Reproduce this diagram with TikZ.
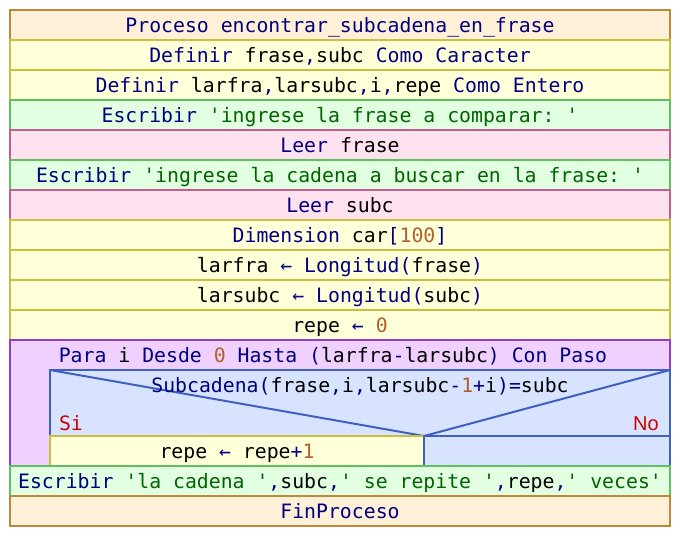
\documentclass[tikz,border=0pt]{standalone}
\usepackage{fontspec}
\setmonofont{DejaVu Sans Mono}
\newfontfamily\nofont{Liberation Sans}
\definecolor{kwc}{HTML}{000080}
\definecolor{strc}{HTML}{006400}
\definecolor{numc}{HTML}{B0602A}
\definecolor{sinoc}{HTML}{D00000}
\definecolor{procfill}{HTML}{FFF0D8}
\definecolor{procdraw}{HTML}{C08838}
\definecolor{deffill}{HTML}{FFFFDA}
\definecolor{defdraw}{HTML}{C8C040}
\definecolor{escfill}{HTML}{E2FFE2}
\definecolor{escdraw}{HTML}{60C060}
\definecolor{leefill}{HTML}{FFE2F0}
\definecolor{leedraw}{HTML}{C06090}
\definecolor{parafill}{HTML}{F0D0FF}
\definecolor{paradraw}{HTML}{9040C0}
\definecolor{iffill}{HTML}{D8E4FF}
\definecolor{ifdraw}{HTML}{4060C0}
\newcommand\kw[1]{\textcolor{kwc}{#1}}
\newcommand\st[1]{\textcolor{strc}{#1}}
\newcommand\nm[1]{\textcolor{numc}{#1}}
\newcommand\qq{\char"27\relax}
\newcommand\arr{\kw{←}}
\tikzset{
  procbox/.style={fill=procfill,draw=procdraw},
  defbox/.style={fill=deffill,draw=defdraw},
  escbox/.style={fill=escfill,draw=escdraw},
  leebox/.style={fill=leefill,draw=leedraw},
  parabox/.style={fill=parafill,draw=paradraw},
  ifbox/.style={fill=iffill,draw=ifdraw},
  txt/.style={anchor=base,inner sep=0pt,font=\ttfamily\fontsize{19.8}{24}\selectfont},
  sino/.style={anchor=base,inner sep=0pt,text=sinoc}
}
\begin{document}
\begin{tikzpicture}[x=1pt,y=-1pt,line width=2pt]
\useasboundingbox (0,0) rectangle (680,536);
% rows
\draw[procbox] (10,10) rectangle (670,40);
\node[txt] (t1) at (340,32) {\kw{Proceso encontrar\_subcadena\_en\_frase}};
\draw[defbox] (10,40) rectangle (670,70);
\node[txt] (t2) at (340,62) {\kw{Definir} frase\kw{,}subc \kw{Como Caracter}};
\draw[defbox] (10,70) rectangle (670,100);
\node[txt] (t3) at (340,92) {\kw{Definir} larfra\kw{,}larsubc\kw{,}i\kw{,}repe \kw{Como Entero}};
\draw[escbox] (10,100) rectangle (670,130);
\node[txt] (t4) at (340,122) {\kw{Escribir} \st{\qq ingrese la frase a comparar: \qq}};
\draw[leebox] (10,130) rectangle (670,160);
\node[txt] (t5) at (340,152) {\kw{Leer} frase};
\draw[escbox] (10,160) rectangle (670,190);
\node[txt] (t6) at (340,182) {\kw{Escribir} \st{\qq ingrese la cadena a buscar en la frase: \qq}};
\draw[leebox] (10,190) rectangle (670,220);
\node[txt] (t7) at (340,212) {\kw{Leer} subc};
\draw[defbox] (10,220) rectangle (670,250);
\node[txt] (t8) at (340,242) {\kw{Dimension} car\kw{[}\nm{100}\kw{]}};
\draw[defbox] (10,250) rectangle (670,280);
\node[txt] (t9) at (340,272) {larfra \arr{} \kw{Longitud(}frase\kw{)}};
\draw[defbox] (10,280) rectangle (670,310);
\node[txt] (t10) at (340,302) {larsubc \arr{} \kw{Longitud(}subc\kw{)}};
\draw[defbox] (10,310) rectangle (670,340);
\node[txt] (t11) at (340,332) {repe \arr{} \nm{0}};
% para loop
\draw[parabox] (10,340) rectangle (670,466);
\node[txt] (t12) at (333,362) {\kw{Para} i \kw{Desde} \nm{0} \kw{Hasta (}larfra\kw{-}larsubc\kw{) Con Paso}};
% if
\draw[ifbox] (50,370) rectangle (670,466);
\coordinate (tl) at (50,370);
\coordinate (tr) at (670,370);
\coordinate (mid) at (424,436);
\draw[ifdraw] (tl) -- (mid) -- (tr);
\node[txt] (t13) at (360,392) {\kw{Subcadena(}frase\kw{,}i\kw{,}larsubc\kw{-}\nm{1}\kw{+}i\kw{)=}subc};
\node[txt,sino] (si) at (71,430) {Si};
\node[sino,font=\nofont\fontsize{20}{24}\selectfont] (no) at (646,430.5) {No};
\draw[defbox] (50,436) rectangle (424,466);
\draw[ifbox] (424,436) rectangle (670,466);
\node[txt] (t14) at (237,458) {repe \arr{} repe\kw{+}\nm{1}};
% final
\draw[escbox] (10,466) rectangle (670,496);
\node[txt] (t15) at (340,488) {\kw{Escribir} \st{\qq la cadena \qq}\kw{,}subc\kw{,}\st{\qq{} se repite \qq}\kw{,}repe\kw{,}\st{\qq{} veces\qq}};
\draw[procbox] (10,496) rectangle (670,526);
\node[txt] (t16) at (340,518) {\kw{FinProceso}};
\end{tikzpicture}
\end{document}
